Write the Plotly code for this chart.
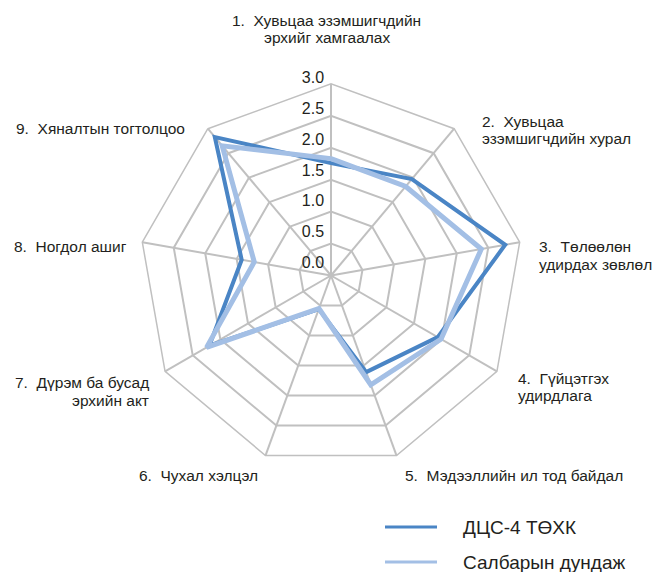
import plotly.graph_objects as go

categories = [
    "1.  Хувьцаа эзэмшигчдийн<br>эрхийг хамгаалах",
    "2.  Хувьцаа<br>эзэмшигчдийн хурал",
    "3.  Төлөөлөн<br>удирдах зөвлөл",
    "4.  Гүйцэтгэх<br>удирдлага",
    "5.  Мэдээллийн ил тод байдал",
    "6.  Чухал хэлцэл",
    "7.  Дүрэм ба бусад<br>эрхийн акт",
    "8.  Ногдол ашиг",
    "9.  Хяналтын тогтолцоо",
]
series_names = ["ДЦС-4 ТӨХК", "Салбарын дундаж"]
dcs4_values = [1.76, 1.97, 2.77, 1.93, 1.61, 0.56, 2.20, 1.42, 2.83]
avg_values = [1.83, 1.82, 2.39, 1.99, 1.82, 0.55, 2.25, 1.22, 2.65]
radial_ticks = [0.0, 0.5, 1.0, 1.5, 2.0, 2.5, 3.0]

W, H = 656, 572
FONT = "Liberation Sans, Arial, Helvetica, sans-serif"
TXT = "#231f20"
GRID = "#c0c0c0"
DARK = "#4a85c5"
LIGHT = "#a3bfe5"


def px_x(x):
    return x / W


def px_y(y):
    return 1 - y / H


theta_ids = [str(i) for i in range(len(categories))]

fig = go.Figure()
styles = [(DARK, 4), (LIGHT, 5)]
for name, vals, (color, width) in zip(series_names, [dcs4_values, avg_values], styles):
    fig.add_trace(go.Scatterpolar(
        r=vals + vals[:1], theta=theta_ids + theta_ids[:1], mode="lines", name=name,
        showlegend=False, line=dict(color=color, width=width), hoverinfo="skip",
    ))
# legend entries (thinner legend lines as in the original)
for name, (color, width) in zip(series_names, styles):
    fig.add_trace(go.Scatterpolar(
        r=[None], theta=[theta_ids[0]], mode="lines",
        name="\u00a0\u00a0\u00a0\u00a0" + name,
        legendgroup=name, line=dict(color=color, width=3),
    ))
# carrier for the value-label axis (labels sit slightly above the rings)
fig.add_trace(go.Scatterpolar(r=[None], theta=[theta_ids[0]], subplot="polar2",
                              mode="lines", showlegend=False, hoverinfo="skip"))

# polar placement (screen pixels)
cx, cy, R = 331, 275.5, 191.6
dom_x = [px_x(cx - R), px_x(cx + R)]
dom_y = [px_y(cy + R), px_y(cy - R)]
lcx, lcy, lR = 327, 262.7, 184.8
dom2_x = [px_x(lcx - lR), px_x(lcx + lR)]
dom2_y = [px_y(lcy + lR), px_y(lcy - lR)]

# category label placement: anchor x, first-line y, alignment
label_pos = [
    (326.5, 20.5, "center"), (481, 121.2, "left"), (537.5, 246.8, "left"),
    (516.5, 378.5, "left"), (404, 475.5, "left"), (259, 475.5, "right"),
    (150, 382.8, "right"), (127.5, 246.5, "right"), (186, 128.3, "right"),
]
LINE_GAP = 17.4
annotations = []
for text, (px, py, al) in zip(categories, label_pos):
    for k, line in enumerate(text.split("<br>")):
        annotations.append(dict(
            text=line, x=px_x(px), y=px_y(py + k * LINE_GAP), xref="paper", yref="paper",
            xanchor=al, yanchor="middle", align=al, showarrow=False, borderpad=0,
            font=dict(family=FONT, size=15.5, color=TXT),
        ))

fig.update_layout(
    width=W, height=H,
    margin=dict(l=0, r=0, t=0, b=0, autoexpand=False),
    paper_bgcolor="white",
    font=dict(family=FONT, size=15, color=TXT),
    polar=dict(
        domain=dict(x=dom_x, y=dom_y), bgcolor="white", gridshape="linear",
        radialaxis=dict(range=[0, 3], tickvals=radial_ticks, showticklabels=False, angle=90,
                        showline=False, ticks="", gridcolor=GRID, gridwidth=1.5),
        angularaxis=dict(type="category", categoryarray=theta_ids, rotation=90,
                         direction="clockwise", showticklabels=False, ticks="",
                         gridcolor=GRID, gridwidth=1.5, linecolor=GRID, linewidth=1.5),
    ),
    polar2=dict(
        domain=dict(x=dom2_x, y=dom2_y), bgcolor="rgba(0,0,0,0)",
        radialaxis=dict(range=[0, 3], tickvals=radial_ticks, tickformat=".1f", angle=90,
                        side="counterclockwise", tickangle=90, showline=False, showgrid=False,
                        ticks="", tickfont=dict(family=FONT, size=16, color=TXT)),
        angularaxis=dict(visible=False, showgrid=False, showline=False,
                         rotation=90, direction="clockwise"),
    ),
    showlegend=True,
    legend=dict(x=px_x(380), y=px_y(508.2), xanchor="left", yanchor="top",
                font=dict(family=FONT, size=19, color=TXT), tracegroupgap=7.3,
                itemwidth=52, bgcolor="rgba(0,0,0,0)"),
    annotations=annotations,
)

fig.write_html("out.html", config={"displayModeBar": False},
               post_script="document.body.style.margin='0';"
                           "document.body.style.overflow='hidden';")
